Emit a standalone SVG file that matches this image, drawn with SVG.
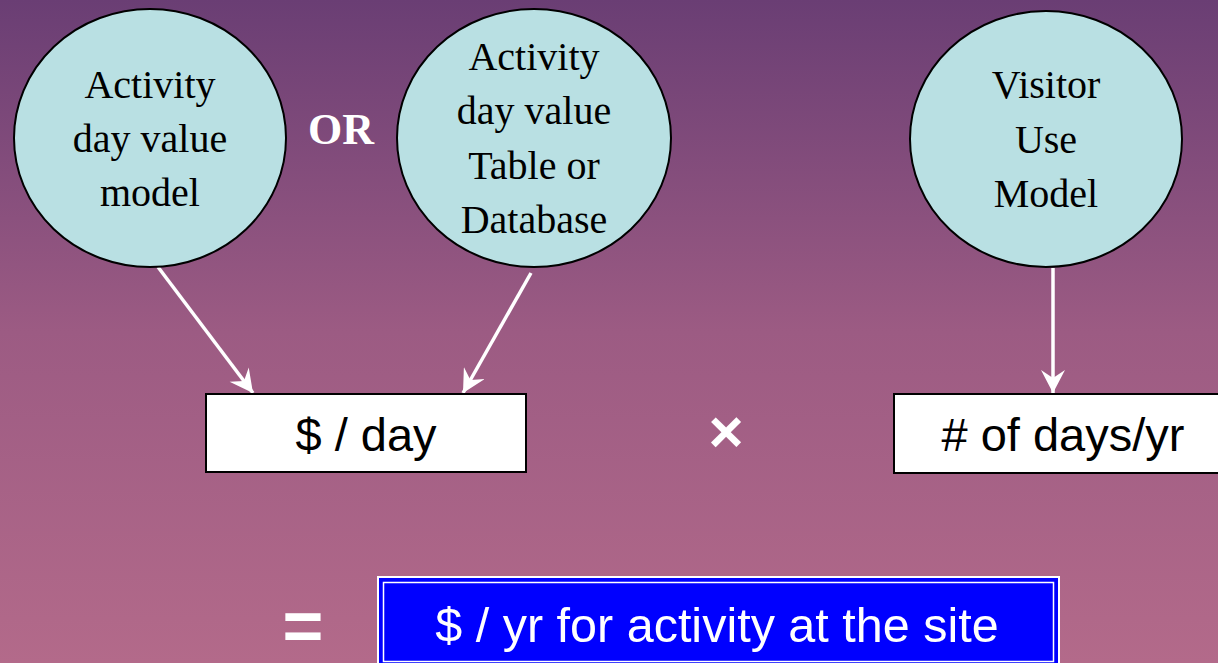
<svg xmlns="http://www.w3.org/2000/svg" width="1218" height="663" viewBox="0 0 1218 663">
  <defs>
    <linearGradient id="bg" x1="0" y1="0" x2="0" y2="1">
      <stop offset="0" stop-color="#6a3e74"/>
      <stop offset="0.5" stop-color="#9c5b83"/>
      <stop offset="1" stop-color="#b36a8a"/>
    </linearGradient>
    <marker id="head" viewBox="-24 -12 26 24" refX="0" refY="0" markerWidth="26" markerHeight="24" markerUnits="userSpaceOnUse" orient="auto">
      <path d="M0,0 L-23,-12 L-15,0 L-23,12 Z" fill="#ffffff"/>
    </marker>
    <style>
      .bubble { fill: #b9e0e3; stroke: #000000; stroke-width: 2; }
      .bubble-text { font-family: "Liberation Serif", "Times New Roman", serif; font-size: 40px; fill: #000000; text-anchor: middle; }
      .box { fill: #ffffff; stroke: #000000; stroke-width: 2; }
      .box-text { font-family: "Liberation Sans", Arial, sans-serif; font-size: 47px; fill: #000000; text-anchor: middle; }
      .link { stroke: #ffffff; stroke-width: 3.5; fill: none; marker-end: url(#head); }
      .op { font-family: "Liberation Sans", Arial, sans-serif; font-weight: bold; fill: #ffffff; text-anchor: middle; }
    </style>
  </defs>

  <rect x="0" y="0" width="1218" height="663" fill="url(#bg)"/>

  <!-- connectors -->
  <g id="connectors">
    <line class="link" x1="158" y1="267" x2="253" y2="393"/>
    <line class="link" x1="531" y1="273" x2="463" y2="393"/>
    <line class="link" x1="1053" y1="268" x2="1053" y2="393"/>
  </g>

  <!-- source models -->
  <g id="activity-model">
    <ellipse class="bubble" cx="150" cy="138" rx="136" ry="129"/>
    <text class="bubble-text" x="150" y="98">Activity</text>
    <text class="bubble-text" x="150" y="152">day value</text>
    <text class="bubble-text" x="150" y="206">model</text>
  </g>

  <g id="or-label">
    <text x="341" y="144" font-family="Liberation Serif, Times New Roman, serif" font-size="44" font-weight="bold" fill="#ffffff" text-anchor="middle">OR</text>
  </g>

  <g id="activity-table">
    <ellipse class="bubble" cx="534" cy="138" rx="137" ry="129"/>
    <text class="bubble-text" x="534" y="70">Activity</text>
    <text class="bubble-text" x="534" y="124">day value</text>
    <text class="bubble-text" x="534" y="179">Table or</text>
    <text class="bubble-text" x="534" y="233">Database</text>
  </g>

  <g id="visitor-model">
    <ellipse class="bubble" cx="1046" cy="139" rx="136" ry="128"/>
    <text class="bubble-text" x="1046" y="98">Visitor</text>
    <text class="bubble-text" x="1046" y="153">Use</text>
    <text class="bubble-text" x="1046" y="207">Model</text>
  </g>

  <!-- factors -->
  <g id="dollars-per-day">
    <rect class="box" x="206" y="394" width="320" height="78"/>
    <text class="box-text" x="366" y="451">$ / day</text>
  </g>

  <g id="times">
    <text class="op" x="726" y="452" font-size="60">×</text>
  </g>

  <g id="days-per-year">
    <rect class="box" x="894" y="394" width="330" height="79"/>
    <text class="box-text" x="1063" y="451"># of days/yr</text>
  </g>

  <!-- result -->
  <g id="equals">
    <text class="op" x="303" y="650" font-size="70">=</text>
  </g>

  <g id="annual-value">
    <rect x="378" y="577" width="681" height="92" fill="#0000ff" stroke="#ffffff" stroke-width="2"/>
    <rect x="383.5" y="582.5" width="670" height="79" fill="none" stroke="#ffffff" stroke-width="1.5"/>
    <text x="717" y="642" font-family="Liberation Sans, Arial, sans-serif" font-size="48.5" fill="#ffffff" text-anchor="middle">$ / yr for activity at the site</text>
  </g>
</svg>
